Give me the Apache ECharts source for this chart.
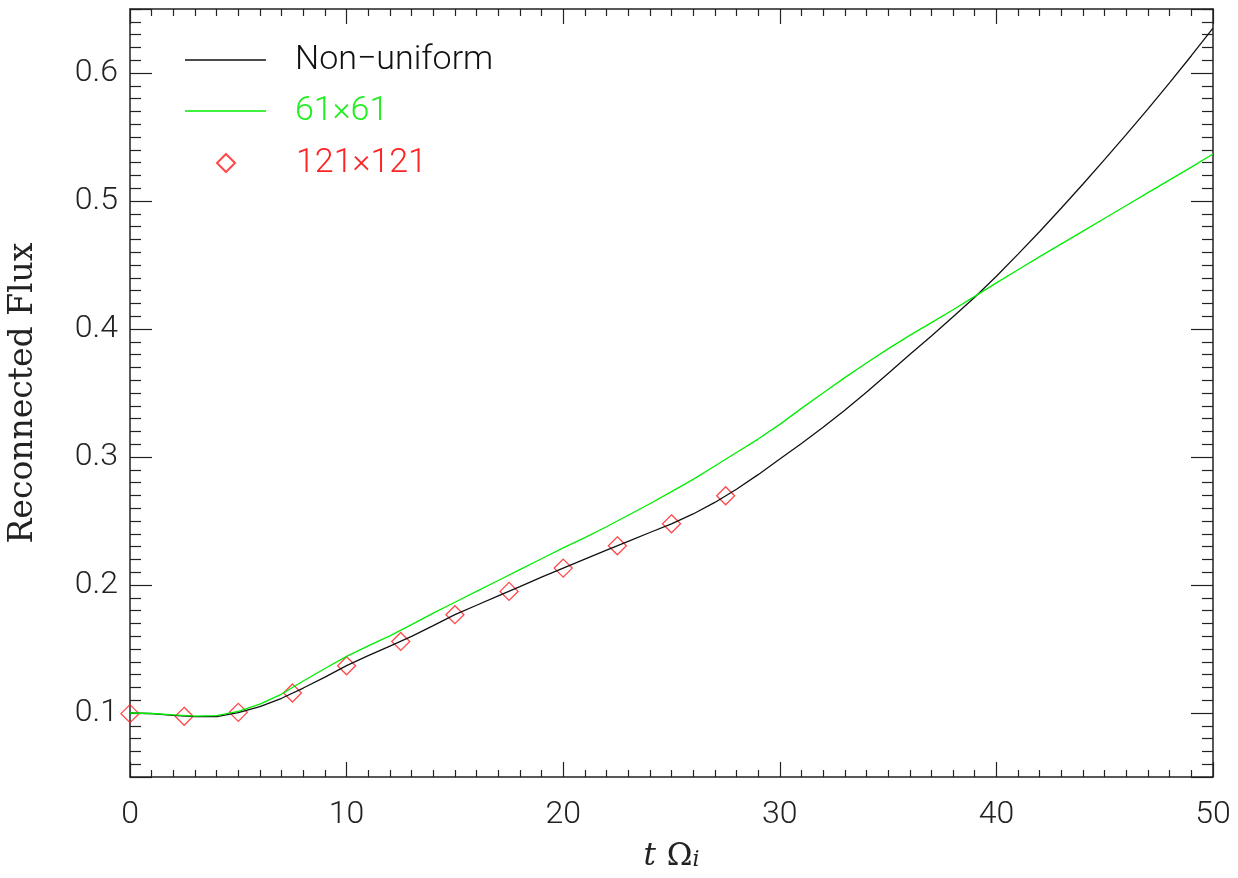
<!DOCTYPE html>
<html>
<head>
<meta charset="utf-8">
<script src="https://cdn.jsdelivr.net/npm/echarts@6/dist/echarts.min.js"></script>
<style>html,body{margin:0;padding:0;background:#fff}#c{width:1238px;height:878px}</style>
</head>
<body>
<div id="c"></div>
<script>
const tLine = [0,1,2,3,4,5,6,7,8,9,10,11,12,13,14,15,16,17,18,19,20,21,22,23,24,25,26,27,28,29,30,31,32,33,34,35,36,37,38,39,40,41,42,43,44,45,46,47,48,49,50];
const nonUniform = [0.1000,0.0995,0.0982,0.0971,0.0972,0.1003,0.1050,0.1115,0.1195,0.1280,0.1370,0.1448,0.1522,0.1598,0.1682,0.1768,0.1842,0.1915,0.1988,0.2062,0.2132,0.2202,0.2272,0.2341,0.2410,0.2478,0.2555,0.2645,0.2748,0.2862,0.2985,0.3105,0.3232,0.3365,0.3505,0.3652,0.3800,0.3945,0.4095,0.4248,0.4412,0.4585,0.4762,0.4945,0.5133,0.5325,0.5520,0.5720,0.5925,0.6135,0.6350];
const grid61 = [0.1000,0.0996,0.0986,0.0976,0.0980,0.1013,0.1070,0.1148,0.1250,0.1348,0.1442,0.1525,0.1603,0.1690,0.1780,0.1865,0.1950,0.2035,0.2120,0.2205,0.2290,0.2370,0.2455,0.2545,0.2635,0.2730,0.2825,0.2930,0.3035,0.3140,0.3255,0.3380,0.3500,0.3620,0.3735,0.3845,0.3950,0.4050,0.4150,0.4255,0.4360,0.4463,0.4565,0.4665,0.4765,0.4865,0.4965,0.5065,0.5165,0.5265,0.5367];
const tDiamond = [0,2.5,5,7.5,10,12.5,15,17.5,20,22.5,25,27.5];
const grid121 = [0.0995,0.0974,0.1005,0.1156,0.1369,0.1559,0.1768,0.1950,0.2132,0.2306,0.2478,0.2697];
const seriesNames = ['Non\u2212uniform','61\u00d761','121\u00d7121'];
const xTickLabels = ['0','10','20','30','40','50'];

const chart = echarts.init(document.getElementById('c'), null, {renderer:'canvas'});
const labelFont = {fontFamily:'Roboto', fontWeight:300, fontSize:32, color:'#222'};
function xAx(pos, show){
  return {type:'value', position:pos, min:0, max:50, interval:10,
    axisLine:{show:true, onZero:false, lineStyle:{color:'#222', width:1.5}},
    axisTick:{show:true, inside:true, length:15, lineStyle:{color:'#222', width:1.2}},
    minorTick:{show:true, splitNumber:10, length:7, lineStyle:{color:'#222', width:1.2}},
    splitLine:{show:false}, minorSplitLine:{show:false},
    axisLabel:{show:show, margin:22, ...labelFont, formatter:(v)=>{const i=xTickLabels.indexOf(String(v)); return i>=0?xTickLabels[i]:'';}},
    name: show ? '{t|t}  {o|\u03a9}{i|i}' : '', nameLocation:'middle', nameGap:64,
    nameTextStyle:{rich:{
      t:{fontFamily:'DejaVu Serif', fontStyle:'italic', fontSize:31, color:'#222', lineHeight:30, verticalAlign:'top', padding:[0,4,14,0]},
      o:{fontFamily:'DejaVu Serif', fontSize:31, color:'#222', lineHeight:30, verticalAlign:'top', padding:[0,0,14,0]},
      i:{fontFamily:'DejaVu Serif', fontStyle:'italic', fontSize:22, color:'#222', lineHeight:22, verticalAlign:'bottom'}
    }}
  };
}
function yAx(pos, show){
  return {type:'value', position:pos, min:0.05, max:0.65, splitNumber:6,
    axisLine:{show:true, onZero:false, lineStyle:{color:'#222', width:1.5}},
    axisTick:{show:true, inside:true, length:22, lineStyle:{color:'#222', width:1.2}},
    minorTick:{show:true, splitNumber:10, length:11, lineStyle:{color:'#222', width:1.2}},
    splitLine:{show:false}, minorSplitLine:{show:false},
    axisLabel:{show:show, margin:12, showMinLabel:false, showMaxLabel:false, ...labelFont,
      formatter:(v)=>{const r=Math.round(v*100)/100; return (Math.abs(r*10-Math.round(r*10))<1e-6)? r.toFixed(1):'';}},
    name: show ? 'Reconnected Flux' : '', nameLocation:'middle', nameGap:90,
    nameTextStyle:{fontFamily:'DejaVu Serif', fontSize:33, color:'#222'}
  };
}
const legendText = {fontFamily:'Roboto', fontWeight:300, fontSize:34, lineHeight:30};
const option = {
  animation:false,
  backgroundColor:'#fff',
  grid:{left:130, right:25, top:9, bottom:101, containLabel:false, outerBoundsMode:'none'},
  xAxis:[xAx('bottom', true), xAx('top', false)],
  yAxis:[yAx('left', true), yAx('right', false)],
  legend:[
    {orient:'vertical', left:185, top:35, padding:0, itemWidth:81, itemHeight:1.3, icon:'rect',
      textStyle:{...legendText, color:'#111', padding:[0,0,20,24]},
      data:[{name:seriesNames[0], itemStyle:{color:'#111'}}]},
    {orient:'vertical', left:185, top:86, padding:0, itemWidth:81, itemHeight:1.3, icon:'rect',
      textStyle:{...legendText, color:'#22ee22', padding:[0,0,20,24]},
      data:[{name:seriesNames[1], itemStyle:{color:'#00ee00'}}]},
    {orient:'vertical', left:216, top:138, padding:0, itemWidth:18, itemHeight:18, icon:'diamond',
      textStyle:{...legendText, color:'#ff2222', padding:[0,0,20,56]},
      data:[{name:seriesNames[2]}]}
  ],
  series:[
    {name:seriesNames[0], type:'line', data:tLine.map((t,i)=>[t,nonUniform[i]]), showSymbol:false, symbol:'none',
      smooth:false, lineStyle:{color:'#111', width:1.3}, itemStyle:{color:'#111'}},
    {name:seriesNames[1], type:'line', data:tLine.map((t,i)=>[t,grid61[i]]), showSymbol:false, symbol:'none',
      smooth:false, lineStyle:{color:'#00ee00', width:1.3}, itemStyle:{color:'#00ee00'}},
    {name:seriesNames[2], type:'scatter', data:tDiamond.map((t,i)=>[t,grid121[i]]), symbol:'diamond', symbolSize:18,
      itemStyle:{color:'rgba(0,0,0,0)', borderColor:'#ff1a1a', borderWidth:1.3}}
  ]
};
chart.setOption(option);
</script>
</body>
</html>
